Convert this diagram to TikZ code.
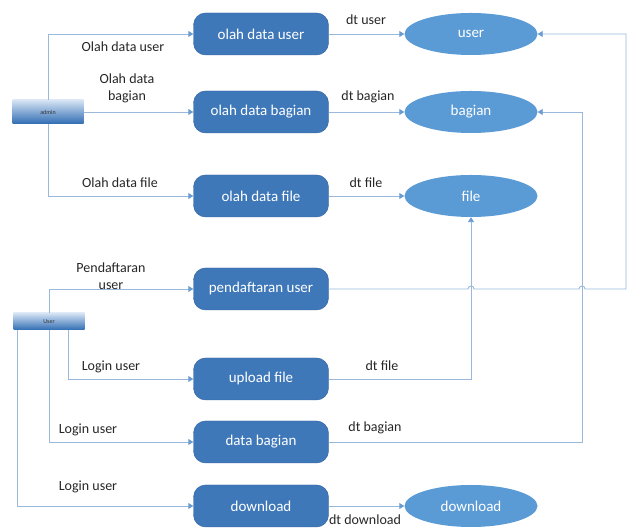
\documentclass[tikz,border=0pt]{standalone}
\usepackage{fontspec}
\setmainfont{Carlito}
\usetikzlibrary{arrows.meta}
\usetikzlibrary{shapes.geometric}

\definecolor{procfill}{HTML}{3F78B9}
\definecolor{procedge}{HTML}{30609A}
\definecolor{storefill}{HTML}{5B9BD5}
\definecolor{linec}{HTML}{9AB8DC}
\definecolor{tipc}{HTML}{6A9BD1}
\definecolor{enttop}{HTML}{D6E4F4}
\definecolor{entbot}{HTML}{2F6CB3}

\tikzset{
    proc/.style={draw=procedge,fill=procfill,rounded corners=12pt,minimum width=135pt,minimum height=42pt,
        text=white,font=\fontsize{15}{17}\selectfont},
    store/.style={ellipse,fill=storefill,minimum width=133pt,minimum height=42pt,inner sep=0pt,
        text=white,font=\fontsize{15}{17}\selectfont},
    entity/.style={top color=enttop,bottom color=entbot,draw=none,minimum width=71pt,
        text=black!80,font=\fontsize{6}{7}\selectfont},
    flow/.style={draw=linec,line width=0.9pt,-{Triangle[width=6pt,length=5pt,color=tipc]}},
    lbl/.style={align=center,font=\fontsize{14}{17}\selectfont,text=black!85,inner sep=0pt}
}

\begin{document}
\begin{tikzpicture}[x=1pt,y=1pt]
                \useasboundingbox (0,0) rectangle (631,529);

                % processes
                \node[proc] (olahuser) at (261,495) {olah data user};
                \node[proc] (olahbagian) at (261,417) {olah data bagian};
                \node[proc] (olahfile) at (261,333) {olah data file};
                \node[proc] (pendaftaran) at (261,240) {pendaftaran user};
                \node[proc] (upload) at (261,150) {upload file};
                \node[proc] (databagian) at (261,87) {data bagian};
                \node[proc] (downloadp) at (261,23) {download};

                % data stores
                \node[store] (user) at (471,495) {user};
                \node[store] (bagian) at (471,417) {bagian};
                \node[store] (file) at (471,333) {file};
                \node[store] (downloads) at (471,23) {download};

                % actors
                \node[entity,minimum height=24pt] (admin) at (48,417) {admin};
                \node[entity,minimum height=17pt] (usr) at (49,207.5) {User};

                % admin flows
                \draw[flow] (admin.north) |- (olahuser);
                \draw[flow] (admin) -- (olahbagian);
                \draw[flow] (admin.south) |- (olahfile);

                \draw[flow] (olahuser) -- (user);
                \draw[flow] (olahbagian) -- (bagian);
                \draw[flow] (olahfile) -- (file);

                % user flows
                \draw[flow] (usr.north) |- (pendaftaran);
                \draw[flow] ([xshift=19pt]usr.south) |- (upload);
                \draw[flow] (usr.south) |- (databagian);
                \draw[flow] ([xshift=-32pt]usr.south) |- (downloadp);

                \coordinate (jumpfile) at (471,240);
                \coordinate (jumpbagian) at (582,240);
                \coordinate (rightcorner) at (626,240);
                \coordinate (bagiancorner) at (582,87);

                \draw[flow] (pendaftaran.east) -- ([xshift=-3pt]jumpfile)
                    arc[start angle=180,end angle=0,radius=3pt] -- ([xshift=-3pt]jumpbagian)
                    arc[start angle=180,end angle=0,radius=3pt] -- (rightcorner) |- (user.east);
                \draw[flow] (upload.east) -| (file.south);
                \draw[flow] (databagian.east) -- (bagiancorner) |- (bagian.east);
                \draw[flow] (downloadp) -- (downloads);

                % labels
                \node[lbl] (l1) at (123,482) {Olah data user};
                \node[lbl] (l2) at (127,441) {Olah data\\bagian};
                \node[lbl] (l3) at (120,346) {Olah data file};
                \node[lbl] (l4) at (366,509) {dt user};
                \node[lbl] (l5) at (368,432) {dt bagian};
                \node[lbl] (l6) at (366,346) {dt file};
                \node[lbl] (l7) at (111,253) {Pendaftaran\\user};
                \node[lbl] (l8) at (111,162) {Login user};
                \node[lbl] (l9) at (382,163) {dt file};
                \node[lbl] (l10) at (88,99) {Login user};
                \node[lbl] (l11) at (375,101) {dt bagian};
                \node[lbl] (l12) at (88,42) {Login user};
                \node[lbl] (l13) at (365,9) {dt download};
\end{tikzpicture}
\end{document}
